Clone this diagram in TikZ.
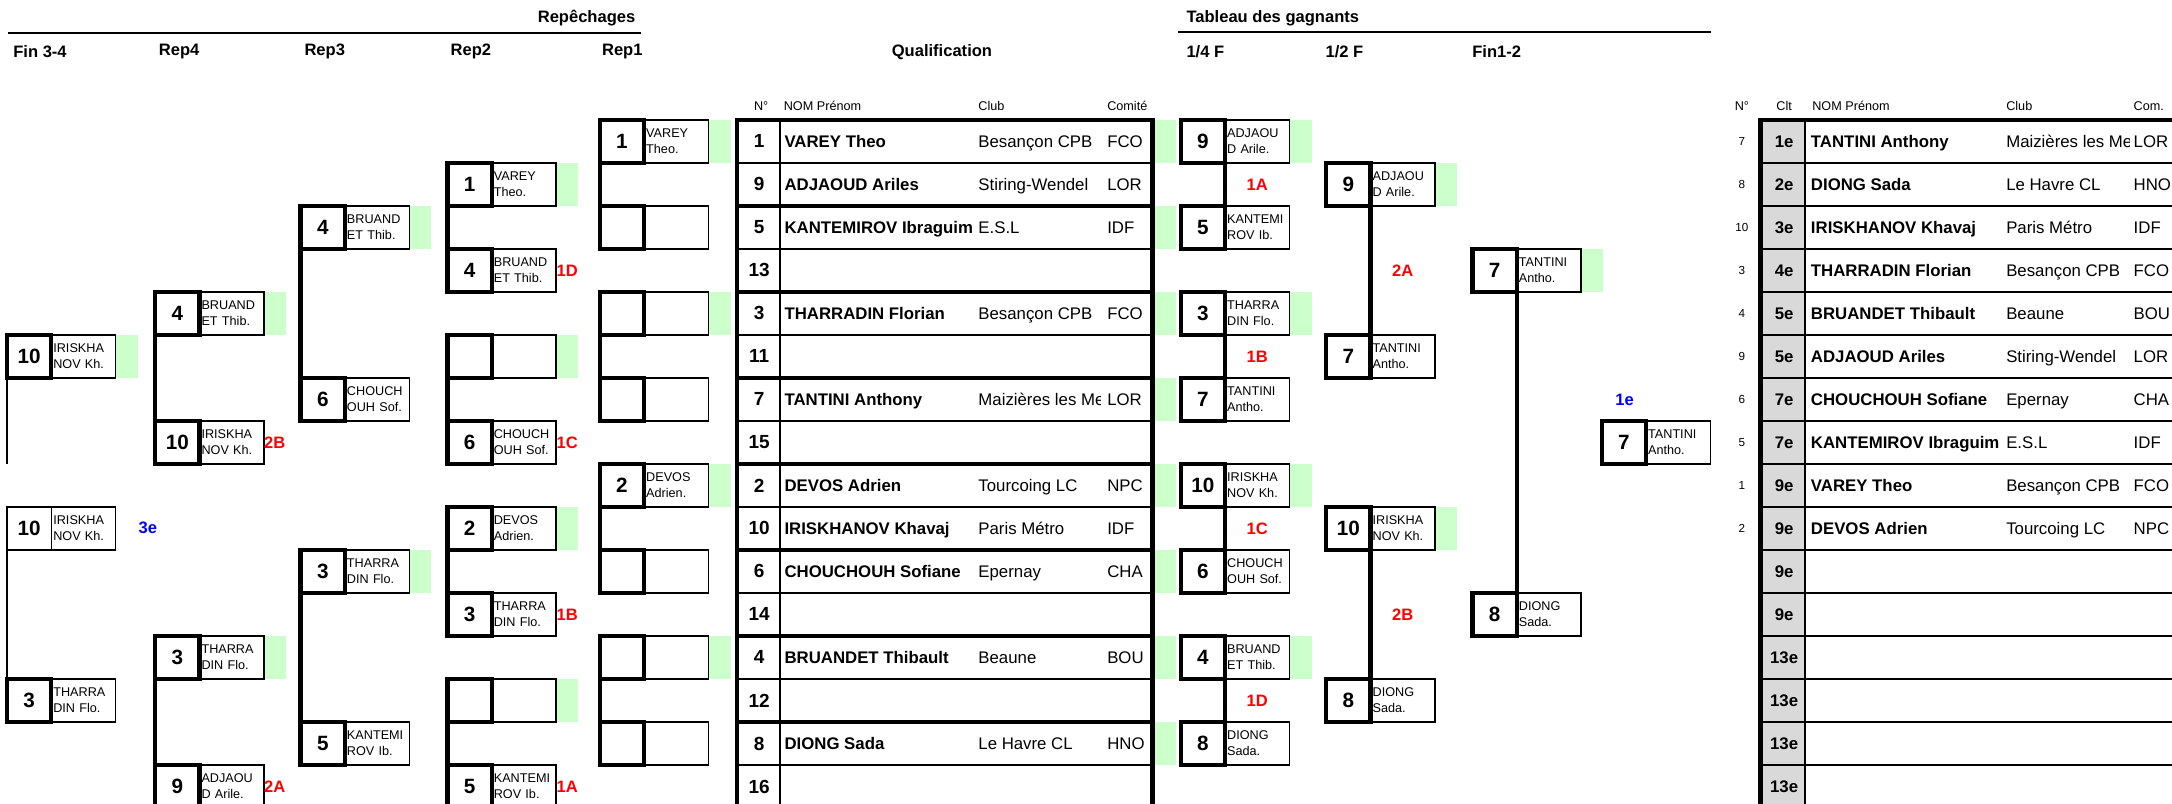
\documentclass[tikz,border=0pt]{standalone}
\usepackage{fontspec}
\setmainfont{Liberation Sans}
\definecolor{lgreen}{RGB}{204,255,204}
\definecolor{lgray}{RGB}{217,217,217}
\tikzset{
  numsq/.style={draw,line width=1.8pt,outer sep=0pt,inner sep=0pt,minimum width=0.64cm,minimum height=0.621cm,anchor=north west,font=\fontsize{8.5}{9}\selectfont\bfseries},
  namebx/.style={draw,line width=0.6pt,outer sep=0pt,inner sep=0.03cm,minimum height=0.621cm,text width=0.87cm,align=left,anchor=north west,font=\fontsize{5.2}{6.5}\selectfont},
  conn/.style={line width=1.8pt},
  thinconn/.style={line width=0.6pt},
  hdr/.style={font=\fontsize{6.8}{8}\selectfont\bfseries,inner sep=0pt},
  sml/.style={font=\fontsize{5.2}{6}\selectfont,inner sep=0pt},
  tny/.style={font=\fontsize{4.8}{6}\selectfont,inner sep=0pt},
  redlbl/.style={font=\fontsize{6.8}{8}\selectfont\bfseries,text=red,inner sep=0pt},
  bluelbl/.style={font=\fontsize{6.8}{8}\selectfont\bfseries,text=blue,inner sep=0pt},
  cellb/.style={font=\fontsize{6.9}{8}\selectfont\bfseries,inner sep=0pt,anchor=base west},
  cell/.style={font=\fontsize{6.9}{8}\selectfont,inner sep=0pt,anchor=base west},
  cellnum/.style={font=\fontsize{7.8}{9}\selectfont\bfseries,inner sep=0pt}
}
\newcommand\bx[6]{%
  \if g#6\fill[lgreen] (#2+78.5,{86.5+31.05*#3}) rectangle ++(16,31.05);\fi
  \node[namebx] (#1n) at (#2+32,{86.5+31.05*#3}) {#5};
  \node[numsq] (#1) at (#2,{86.5+31.05*#3}) {#4};
}

\begin{document}
\begin{tikzpicture}[x=0.02cm,y=-0.02cm]
\useasboundingbox (0,0) rectangle (1568,580);

\node[hdr,anchor=east] (rep) at (459,13.2) {Repêchages};
\draw[line width=0.9pt] (6,23.6) -- (462.5,23.6);
\node[hdr,anchor=west] (hf34) at (9.3,37.3) {Fin 3-4};
\node[hdr,anchor=west] (hr4) at (114.4,37.3) {Rep4};
\node[hdr,anchor=west] (hr3) at (219.5,37.3) {Rep3};
\node[hdr,anchor=west] (hr2) at (325,37.3) {Rep2};
\node[hdr,anchor=west] (hr1) at (434.3,37.3) {Rep1};
\node[hdr] (qual) at (680,37.8) {Qualification};
\node[hdr,anchor=west] (tab) at (856.2,13.2) {Tableau des gagnants};
\draw[line width=0.9pt] (850.7,23.3) -- (1235,23.3);
\node[hdr,anchor=west] (hq) at (856.2,37.3) {1/4 F};
\node[hdr,anchor=west] (hd) at (956.6,37.3) {1/2 F};
\node[hdr,anchor=west] (hf12) at (1062.5,37.3) {Fin1-2};

\node[sml] (qh1) at (549.5,76.3) {N°};
\node[sml,anchor=west] (qh2) at (565.5,76.3) {NOM Prénom};
\node[sml,anchor=west] (qh3) at (706,76.3) {Club};
\node[sml,anchor=west] (qh4) at (799,76.3) {Comité};

\foreach \i in {0,2,...,14} \fill[lgreen] (832,{86.5+31.05*\i}) rectangle ++(17,31.05);
\foreach \i in {1,3,...,15} \draw[line width=0.6pt] (532,{86.5+31.05*\i}) -- (832,{86.5+31.05*\i});
\foreach \i in {2,4,...,14} \draw[line width=1.8pt] (532,{86.5+31.05*\i}) -- (832,{86.5+31.05*\i});
\draw[line width=0.6pt] (563,86.5) -- (563,584);
\draw[line width=1.8pt] (532,86.5) rectangle (832,583.3);
\foreach \n/\nm/\cl/\cm [count=\r from 0] in {1/VAREY Theo/Besançon CPB/FCO,9/ADJAOUD Ariles/Stiring-Wendel/LOR,5/KANTEMIROV Ibraguim/E.S.L/IDF,13///,3/THARRADIN Florian/Besançon CPB/FCO,11///,7/TANTINI Anthony/Maizières les Me/LOR,15///,2/DEVOS Adrien/Tourcoing LC/NPC,10/IRISKHANOV Khavaj/Paris Métro/IDF,6/CHOUCHOUH Sofiane/Epernay/CHA,14///,4/BRUANDET Thibault/Beaune/BOU,12///,8/DIONG Sada/Le Havre CL/HNO,16///}{
  \node[cellnum] (qn\r) at (548,{102.03+31.05*\r}) {\n};
  \node[cellb] (qm\r) at (566,{106.4+31.05*\r}) {\nm};
  \begin{scope}
    \clip (700,{86.5+31.05*\r}) rectangle (794.5,{117.5+31.05*\r});
    \node[cell] (qc\r) at (706,{106.4+31.05*\r}) {\cl};
  \end{scope}
  \node[cell] (qk\r) at (799,{106.4+31.05*\r}) {\cm};
}

\bx{f1}{5}{5}{10}{IRISKHA\\NOV Kh.}{g}
\node[namebx] (f2n) at (37,{86.5+31.05*9}) {IRISKHA\\NOV Kh.};
\node[numsq,line width=0.6pt] (f2) at (5,{86.5+31.05*9}) {10};
\bx{f3}{5}{13}{3}{THARRA\\DIN Flo.}{n}
\coordinate (f1e) at (5,334.9);
\node[bluelbl] (third) at (106.8,381) {3e};

\bx{q4a}{112}{4}{4}{BRUAND\\ET Thib.}{g}
\bx{q4b}{112}{7}{10}{IRISKHA\\NOV Kh.}{n}
\bx{q4c}{112}{12}{3}{THARRA\\DIN Flo.}{g}
\bx{q4d}{112}{15}{9}{ADJAOU\\D Arile.}{n}
\node[redlbl] (l2b) at (198.3,{102.03+31.05*7}) {2B};
\node[redlbl] (l2a) at (198.3,{102.03+31.05*15}) {2A};

\bx{q3a}{217}{2}{4}{BRUAND\\ET Thib.}{g}
\bx{q3b}{217}{6}{6}{CHOUCH\\OUH Sof.}{n}
\bx{q3c}{217}{10}{3}{THARRA\\DIN Flo.}{g}
\bx{q3d}{217}{14}{5}{KANTEMI\\ROV Ib.}{n}

\bx{q2a}{323}{1}{1}{VAREY\\Theo.}{g}
\bx{q2b}{323}{3}{4}{BRUAND\\ET Thib.}{n}
\bx{q2c}{323}{5}{}{}{g}
\bx{q2d}{323}{7}{6}{CHOUCH\\OUH Sof.}{n}
\bx{q2e}{323}{9}{2}{DEVOS\\Adrien.}{g}
\bx{q2f}{323}{11}{3}{THARRA\\DIN Flo.}{n}
\bx{q2g}{323}{13}{}{}{g}
\bx{q2h}{323}{15}{5}{KANTEMI\\ROV Ib.}{n}
\node[redlbl] (l1d) at (409.5,{102.03+31.05*3}) {1D};
\node[redlbl] (l1c) at (409.5,{102.03+31.05*7}) {1C};
\node[redlbl] (l1b) at (409.5,{102.03+31.05*11}) {1B};
\node[redlbl] (l1a) at (409.5,{102.03+31.05*15}) {1A};

\bx{q1a}{433}{0}{1}{VAREY\\Theo.}{g}
\bx{q1b}{433}{2}{}{}{n}
\bx{q1c}{433}{4}{}{}{g}
\bx{q1d}{433}{6}{}{}{n}
\bx{q1e}{433}{8}{2}{DEVOS\\Adrien.}{g}
\bx{q1f}{433}{10}{}{}{n}
\bx{q1g}{433}{12}{}{}{g}
\bx{q1h}{433}{14}{}{}{n}

\draw[thinconn] (f1.south west) -- (f1e);
\draw[thinconn] (f2.south west) -- (f3.north west);
\draw[conn] (q4a.south west) -- (q4b.north west);
\draw[conn] (q4c.south west) -- (q4d.north west);
\draw[conn] (q3a.south west) -- (q3b.north west);
\draw[conn] (q3c.south west) -- (q3d.north west);
\draw[conn] (q2a.south west) -- (q2b.north west);
\draw[conn] (q2c.south west) -- (q2d.north west);
\draw[conn] (q2e.south west) -- (q2f.north west);
\draw[conn] (q2g.south west) -- (q2h.north west);
\draw[conn] (q1a.south west) -- (q1b.north west);
\draw[conn] (q1c.south west) -- (q1d.north west);
\draw[conn] (q1e.south west) -- (q1f.north west);
\draw[conn] (q1g.south west) -- (q1h.north west);

\bx{w1a}{852.4}{0}{9}{ADJAOU\\D Arile.}{g}
\bx{w1b}{852.4}{2}{5}{KANTEMI\\ROV Ib.}{n}
\bx{w1c}{852.4}{4}{3}{THARRA\\DIN Flo.}{g}
\bx{w1d}{852.4}{6}{7}{TANTINI\\Antho.}{n}
\bx{w1e}{852.4}{8}{10}{IRISKHA\\NOV Kh.}{g}
\bx{w1f}{852.4}{10}{6}{CHOUCH\\OUH Sof.}{n}
\bx{w1g}{852.4}{12}{4}{BRUAND\\ET Thib.}{g}
\bx{w1h}{852.4}{14}{8}{DIONG\\Sada.}{n}
\node[redlbl] (m1a) at (907.6,{102.03+31.05*1}) {1A};
\node[redlbl] (m1b) at (907.6,{102.03+31.05*5}) {1B};
\node[redlbl] (m1c) at (907.6,{102.03+31.05*9}) {1C};
\node[redlbl] (m1d) at (907.6,{102.03+31.05*13}) {1D};

\bx{w2a}{957.4}{1}{9}{ADJAOU\\D Arile.}{g}
\bx{w2b}{957.4}{5}{7}{TANTINI\\Antho.}{n}
\bx{w2c}{957.4}{9}{10}{IRISKHA\\NOV Kh.}{g}
\bx{w2d}{957.4}{13}{8}{DIONG\\Sada.}{n}
\node[redlbl] (m2a) at (1012.6,{102.03+31.05*3}) {2A};
\node[redlbl] (m2b) at (1012.6,{102.03+31.05*11}) {2B};

\bx{w3a}{1063}{3}{7}{TANTINI\\Antho.}{g}
\bx{w3b}{1063}{11}{8}{DIONG\\Sada.}{n}

\node[bluelbl] (first) at (1172.8,288.4) {1e};
\bx{win}{1156.3}{7}{7}{TANTINI\\Antho.}{n}

\draw[conn] (w1a.south east) -- (w1b.north east);
\draw[conn] (w1c.south east) -- (w1d.north east);
\draw[conn] (w1e.south east) -- (w1f.north east);
\draw[conn] (w1g.south east) -- (w1h.north east);
\draw[conn] (w2a.south east) -- (w2b.north east);
\draw[conn] (w2c.south east) -- (w2d.north east);
\draw[conn] (w3a.south east) -- (w3b.north east);

\node[sml] (rh1) at (1257.5,76.3) {N°};
\node[sml] (rh2) at (1288,76.3) {Clt};
\node[sml,anchor=west] (rh3) at (1308,76.3) {NOM Prénom};
\node[sml,anchor=west] (rh4) at (1448,76.3) {Club};
\node[sml,anchor=west] (rh5) at (1540,76.3) {Com.};
\fill[lgray] (1271,86.5) rectangle (1303,600);
\foreach \i in {1,...,16} \draw[line width=0.9pt] (1271,{86.5+31.05*\i}) -- (1600,{86.5+31.05*\i});
\draw[line width=0.9pt] (1303,86.5) -- (1303,600);
\draw[line width=1.8pt] (1271,600) -- (1271,86.5) -- (1600,86.5);
\foreach \n/\k/\nm/\cl/\cm [count=\r from 0] in {7/1e/TANTINI Anthony/Maizières les Me/LOR,8/2e/DIONG Sada/Le Havre CL/HNO,10/3e/IRISKHANOV Khavaj/Paris Métro/IDF,3/4e/THARRADIN Florian/Besançon CPB/FCO,4/5e/BRUANDET Thibault/Beaune/BOU,9/5e/ADJAOUD Ariles/Stiring-Wendel/LOR,6/7e/CHOUCHOUH Sofiane/Epernay/CHA,5/7e/KANTEMIROV Ibraguim/E.S.L/IDF,1/9e/VAREY Theo/Besançon CPB/FCO,2/9e/DEVOS Adrien/Tourcoing LC/NPC,/9e///,/9e///,/13e///,/13e///,/13e///,/13e///}{
  \node[tny] (rn\r) at (1257.5,{102.03+31.05*\r}) {\n};
  \node[cellb,anchor=base] (rk\r) at (1288,{106.4+31.05*\r}) {\k};
  \node[cellb] (rm\r) at (1307,{106.4+31.05*\r}) {\nm};
  \begin{scope}
    \clip (1440,{86.5+31.05*\r}) rectangle (1537,{117.5+31.05*\r});
    \node[cell] (rc\r) at (1448,{106.4+31.05*\r}) {\cl};
  \end{scope}
  \node[cell] (ro\r) at (1540,{106.4+31.05*\r}) {\cm};
}
\end{tikzpicture}
\end{document}
